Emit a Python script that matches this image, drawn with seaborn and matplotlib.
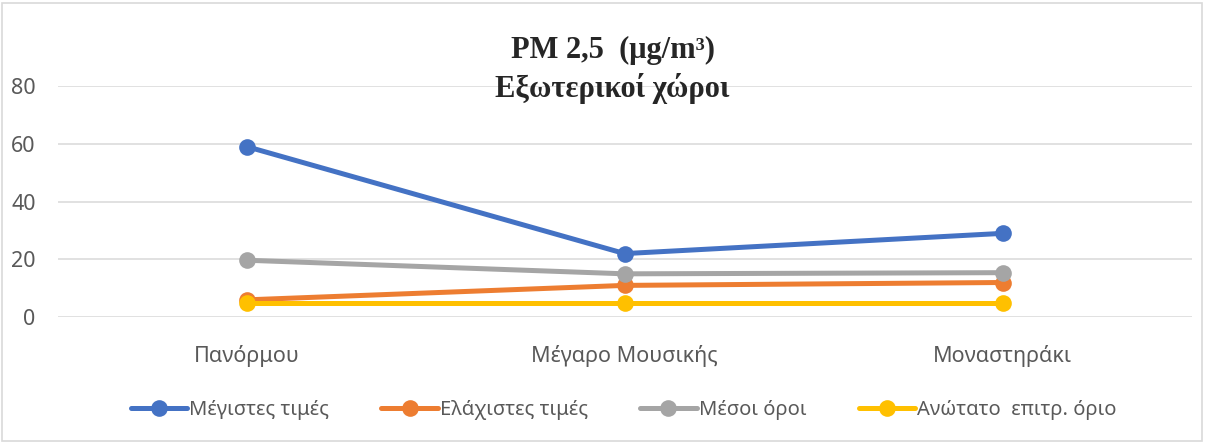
import matplotlib
matplotlib.use('Agg')
import matplotlib.pyplot as plt
import matplotlib.patches as patches
import seaborn as sns
import pandas as pd

# data
locations = ['Πανόρμου', 'Μέγαρο Μουσικής', 'Μοναστηράκι']
max_vals = [59, 22, 29]
min_vals = [6, 11, 12]
mean_vals = [19.7, 15.0, 15.4]
limit_vals = [5, 5, 5]
series_names = ['Μέγιστες τιμές', 'Ελάχιστες τιμές', 'Μέσοι όροι', 'Ανώτατο  επιτρ. όριο']
colors = ['#4472C4', '#ED7D31', '#A5A5A5', '#FFC000']

rows = []
for name, vals in zip(series_names, [max_vals, min_vals, mean_vals, limit_vals]):
    for loc, v in zip(locations, vals):
        rows.append({'location': loc, 'value': v, 'series': name})
df = pd.DataFrame(rows)
df['location'] = pd.Categorical(df['location'], categories=locations, ordered=True)

sns.set_style('white')
plt.rcParams['font.family'] = ['Noto Sans', 'DejaVu Sans']

fig = plt.figure(figsize=(12.06, 4.43), dpi=100)
ax = fig.add_axes([0.048, 0.284, 0.94, 0.522])

sns.lineplot(data=df, x='location', y='value', hue='series', hue_order=series_names,
             palette=colors, marker='o', markersize=12, markeredgewidth=0,
             linewidth=3.6, ax=ax, legend=False, sort=False)

ax.set_xlim(-0.5, 2.5)
ax.set_ylim(0, 80)
ax.set_yticks([0, 20, 40, 60, 80])
ax.yaxis.grid(True, color='#D9D9D9', linewidth=1.1)
ax.set_axisbelow(True)
for line in ax.lines:
    line.set_clip_on(False)
for s in ax.spines.values():
    s.set_visible(False)
ax.tick_params(axis='both', length=0, labelsize=15.5, colors='#595959')
ax.tick_params(axis='x', pad=20)
ax.tick_params(axis='y', pad=16)
ax.set_xlabel('')
ax.set_ylabel('')

# title
serif = ['Liberation Serif', 'DejaVu Serif']
fig.text(0.508, 0.885, 'PM 2,5  (μg/m³)', ha='center', va='center',
         fontsize=22, fontweight='bold', family=serif)
fig.text(0.508, 0.80, 'Εξωτερικοί χώροι', ha='center', va='center',
         fontsize=22, fontweight='bold', family=serif)

# legend
handles = [plt.Line2D([0], [0], color=c, linewidth=3.6, marker='o', markersize=12,
                      markeredgewidth=0) for c in colors]
fig.legend(handles, series_names, loc='center', bbox_to_anchor=(0.517, 0.075), ncol=4,
           frameon=False, fontsize=14.5, labelcolor='#595959', handlelength=2.8,
           handletextpad=0.1, columnspacing=2.6)

# chart border
fig.patches.append(patches.Rectangle((0.002, 0.004), 0.995, 0.99, transform=fig.transFigure,
                                     fill=False, edgecolor='#D9D9D9', linewidth=1.2))

fig.savefig('out.png', dpi=100)
